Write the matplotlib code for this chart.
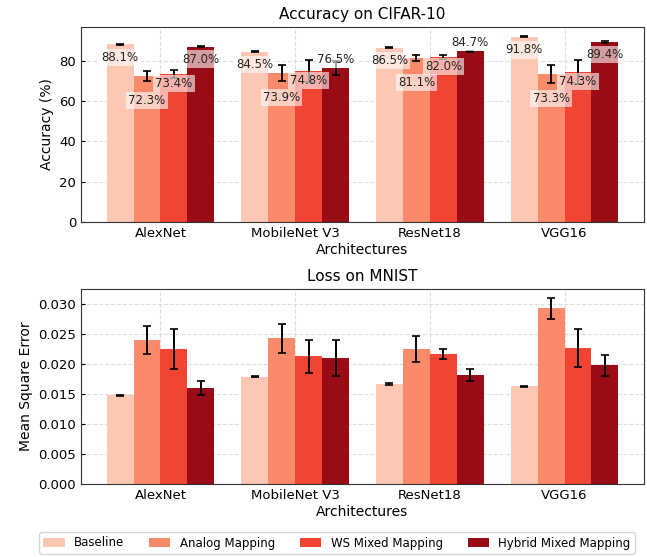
import matplotlib
matplotlib.use("Agg")
import matplotlib.pyplot as plt
import numpy as np

architectures = ["AlexNet", "MobileNet V3", "ResNet18", "VGG16"]
methods = ["Baseline", "Analog Mapping", "WS Mixed Mapping", "Hybrid Mixed Mapping"]
colors = ["#fcc8b3", "#fb8a6a", "#f14432", "#990c16"]

acc_baseline = [88.1, 84.5, 86.5, 91.8]
acc_analog = [72.3, 73.9, 81.1, 73.3]
acc_ws = [73.4, 74.8, 82.0, 74.3]
acc_hybrid = [87.0, 76.5, 84.7, 89.4]
acc_err_baseline = [0.3, 0.3, 0.3, 0.3]
acc_err_analog = [2.5, 3.8, 1.5, 4.5]
acc_err_ws = [1.8, 5.5, 1.0, 6.0]
acc_err_hybrid = [0.4, 3.5, 0.3, 0.5]

mse_baseline = [0.0148, 0.0179, 0.0167, 0.0163]
mse_analog = [0.0240, 0.0243, 0.0225, 0.0293]
mse_ws = [0.0225, 0.0213, 0.0217, 0.0227]
mse_hybrid = [0.0160, 0.0211, 0.0182, 0.0198]
mse_err_baseline = [0.0001, 0.0001, 0.0001, 0.0001]
mse_err_analog = [0.0023, 0.0024, 0.0022, 0.0017]
mse_err_ws = [0.0033, 0.0028, 0.0008, 0.0031]
mse_err_hybrid = [0.0012, 0.0030, 0.0010, 0.0018]

acc = [acc_baseline, acc_analog, acc_ws, acc_hybrid]
acc_err = [acc_err_baseline, acc_err_analog, acc_err_ws, acc_err_hybrid]
mse = [mse_baseline, mse_analog, mse_ws, mse_hybrid]
mse_err = [mse_err_baseline, mse_err_analog, mse_err_ws, mse_err_hybrid]

# label vertical offsets (in data units) relative to bar tops
label_offsets = [[-6.5] * 4, [-12.0] * 4, [-4.7] * 4, [-6.2, 4.0, 4.3, -6.4]]

fig = plt.figure(figsize=(6.47, 5.57), dpi=100)
ax1 = fig.add_axes([81 / 647, 1 - 222 / 557, 563 / 647, 195 / 557])
ax2 = fig.add_axes([81 / 647, 1 - 484 / 557, 563 / 647, 195 / 557])

x = np.arange(len(architectures))
w = 0.2

def style(ax):
    ax.set_axisbelow(True)
    ax.grid(True, linestyle="--", color="#dddddd", linewidth=0.8)
    ax.tick_params(direction="in", length=3, labelsize=9.5)
    for s in ax.spines.values():
        s.set_color("#333333")
    ax.set_xticks(x)
    ax.set_xticklabels(architectures)
    ax.set_xlabel("Architectures", fontsize=10, labelpad=2)

handles = []
for i in range(4):
    pos = x + (i - 1.5) * w
    b = ax1.bar(pos, acc[i], w, yerr=acc_err[i], color=colors[i], label=methods[i],
                error_kw=dict(ecolor="black", elinewidth=1.4, capsize=3, capthick=1.2))
    handles.append(b)
    for j in range(4):
        ax1.text(pos[j], acc[i][j] + label_offsets[i][j], f"{acc[i][j]:.1f}%",
                 ha="center", va="center", fontsize=8.5, color="#222222",
                 bbox=dict(facecolor="white", alpha=0.6, edgecolor="none", pad=1.5))
    ax2.bar(pos, mse[i], w, yerr=mse_err[i], color=colors[i],
            error_kw=dict(ecolor="black", elinewidth=1.4, capsize=3, capthick=1.2))

style(ax1)
style(ax2)
ax1.set_title("Accuracy on CIFAR-10", fontsize=11, pad=6)
ax1.set_ylabel("Accuracy (%)", fontsize=10)
ax1.set_yticks([0, 20, 40, 60, 80])
ax2.set_title("Loss on MNIST", fontsize=11, pad=6)
ax2.set_ylabel("Mean Square Error", fontsize=10)
ax2.set_yticks(np.arange(0, 0.0301, 0.005))
ax2.yaxis.set_major_formatter(matplotlib.ticker.FormatStrFormatter("%.3f"))

fig.legend(handles, methods, loc="center", ncol=4, bbox_to_anchor=(337 / 647, 1 - 543 / 557),
           fontsize=8.5, frameon=True, edgecolor="#cccccc", columnspacing=2.1,
           handlelength=1.8, handletextpad=0.8, borderpad=0.35)

fig.savefig("out.png", dpi=100)
